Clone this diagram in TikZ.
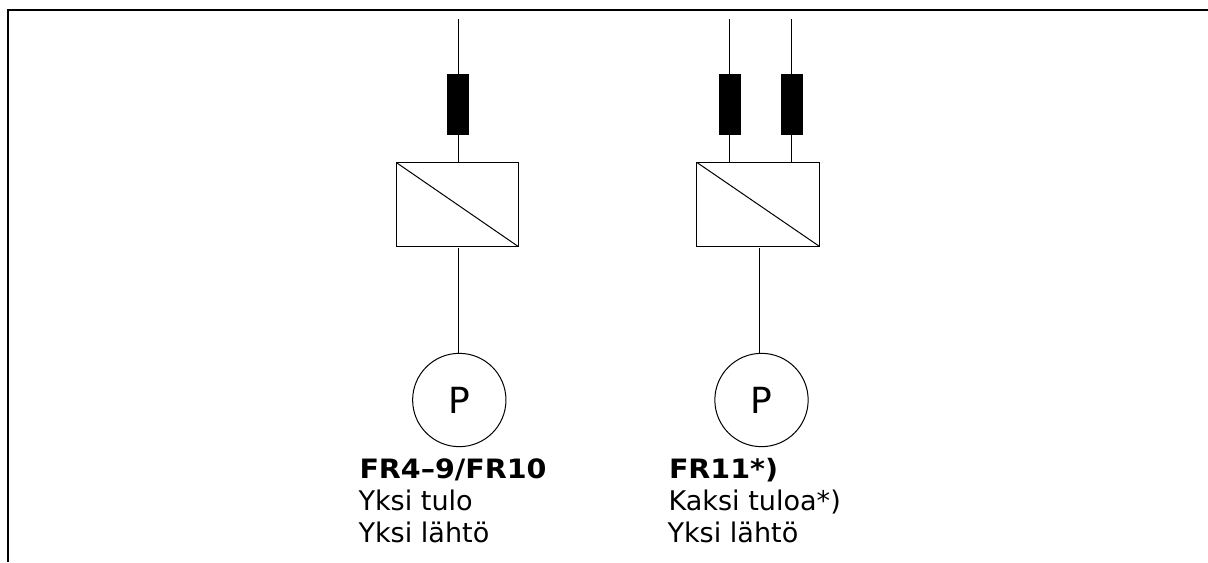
\documentclass[tikz,border=0pt]{standalone}
\usepackage{fontspec}
\setmainfont[BoldFeatures={FakeStretch=1.07}]{DejaVu Sans}
\begin{document}
\begin{tikzpicture}[x=0.75pt,y=-0.75pt,
  wire/.style={draw=black,line width=0.75pt},
  frameline/.style={draw=black,line width=1pt},
  fuse/.style={rectangle,fill=black,draw=black,line width=0.5pt,inner sep=0pt,outer sep=0pt,minimum width=16pt,minimum height=45pt},
  conv/.style={rectangle,draw=black,line width=0.75pt,inner sep=0pt,outer sep=0pt,minimum height=63pt},
  pump/.style={circle,draw=black,line width=0.75pt,inner sep=0pt,outer sep=0pt,minimum size=70pt,font=\fontsize{27pt}{27pt}\selectfont},
  lab/.style={anchor=base west,inner sep=0pt,outer sep=0pt,font=\fontsize{20.3pt}{24pt}\selectfont}]
\useasboundingbox (0,0) rectangle (1208,562);
\fill[white] (0,0) rectangle (1208,562);
\coordinate (fl) at (8,562);
\coordinate (ftl) at (8,10);
\coordinate (fr) at (1208,10);
\draw[frameline] (fl) -- (ftl) -- (fr);
% left
\node[fuse] (f1) at (458,104) {};
\node[conv,minimum width=91.5pt] (c1) at (457.25,204.5) {};
\node[pump] (p1) at (459.3,400) {P};
\coordinate (t1) at (458,19);
\coordinate (o1) at (458,248);
\draw[wire] (t1) -- (f1.north);
\draw[wire] (f1.south) -- (f1.south |- c1.north);
\draw[wire] (c1.north west) -- (c1.south east);
\draw[wire] (o1) -- (o1 |- p1.north);
% right
\node[fuse] (f2) at (729.6,104) {};
\node[fuse] (f3) at (791.6,104) {};
\node[conv,minimum width=92pt] (c2) at (758.3,204.5) {};
\node[pump] (p2) at (761.5,400) {P};
\coordinate (t2) at (729.6,19);
\coordinate (t3) at (791.6,19);
\coordinate (o2) at (759.5,248);
\draw[wire] (t2) -- (f2.north);
\draw[wire] (f2.south) -- (f2.south |- c2.north);
\draw[wire] (t3) -- (f3.north);
\draw[wire] (f3.south) -- (f3.south |- c2.north);
\draw[wire] (c2.north west) -- (c2.south east);
\draw[wire] (o2) -- (o2 |- p2.north);
% labels
\node[lab,font=\fontsize{20pt}{24pt}\selectfont\bfseries] (a1) at (359.5,478) {FR4–9/FR10};
\node[lab] (a2) at (358.5,510) {Yksi tulo};
\node[lab] (a3) at (358.5,542) {Yksi lähtö};
\node[lab,font=\fontsize{20pt}{24pt}\selectfont\bfseries] (b1) at (669,478) {FR11*)};
\node[lab] (b2) at (668.5,510) {Kaksi tuloa*)};
\node[lab] (b3) at (667.5,542) {Yksi lähtö};
\end{tikzpicture}
\end{document}
